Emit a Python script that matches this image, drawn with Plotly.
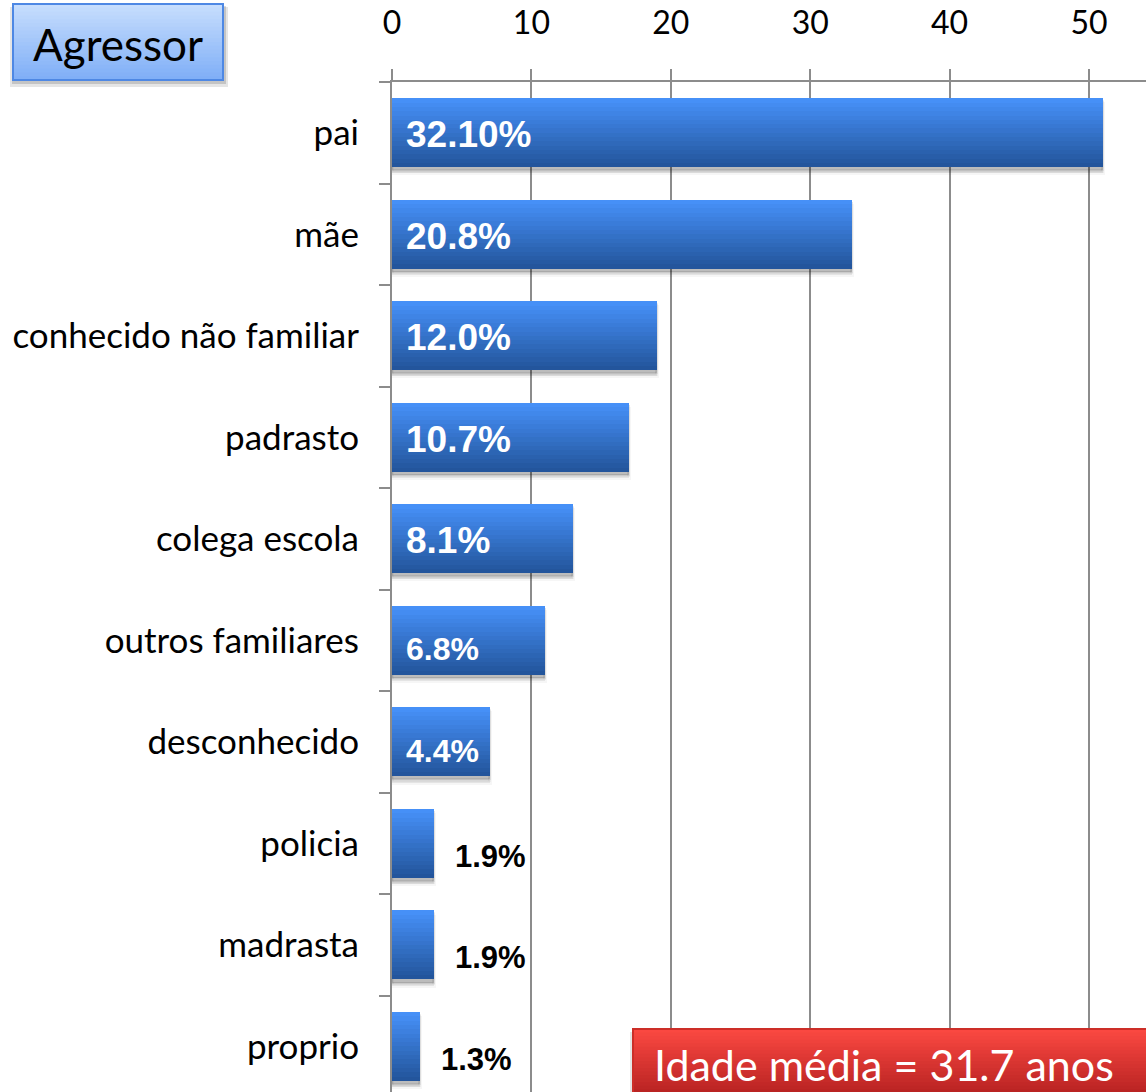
import plotly.graph_objects as go

# Agressor categories (top to bottom) and number of cases
categories = ["pai", "mãe", "conhecido não familiar", "padrasto", "colega escola",
              "outros familiares", "desconhecido", "policia", "madrasta", "proprio"]
counts = [51, 33, 19, 17, 13, 11, 7, 3, 3, 2]
pct_labels = ["32.10%", "20.8%", "12.0%", "10.7%", "8.1%", "6.8%", "4.4%", "1.9%", "1.9%", "1.3%"]
x_ticks = [0, 10, 20, 30, 40, 50]
title_text = "Agressor"
note_text = "Idade média = 31.7 anos"

W, H = 1146, 1092
ML, MT = 392, 82
PW, PH = W - ML, H - MT

BAR_W = 0.68
GRID = "#8c8c8c"
LABEL_FONT = "Lato"


def lerp_hex(c1, c2, t):
    a = [int(c1[i:i + 2], 16) for i in (1, 3, 5)]
    b = [int(c2[i:i + 2], 16) for i in (1, 3, 5)]
    return "rgb({},{},{})".format(*[round(a[j] + (b[j] - a[j]) * t) for j in range(3)])


def px_x(px):
    return (px - ML) / PW


def px_y(py):
    return (H - py) / PH


fig = go.Figure()

# soft drop shadow under each bar
for k, (dy, alpha) in enumerate([(0.06, 0.07), (0.045, 0.09), (0.03, 0.12)]):
    fig.add_trace(go.Bar(
        y=categories, x=counts, orientation="h",
        width=BAR_W, offset=-BAR_W / 2 + dy,
        marker=dict(color=f"rgba(0,0,0,{alpha})",
                    line=dict(width=4 - k, color=f"rgba(0,0,0,{alpha / 2})")),
        hoverinfo="skip", showlegend=False,
    ))

# vertical gradient on bars: stacked layers, darkest (full height) first
N = 16
top_c, bot_c = "#4690f7", "#23559c"
for k in range(N):
    frac = (N - k) / N
    fig.add_trace(go.Bar(
        y=categories, x=counts, orientation="h",
        width=BAR_W * frac, offset=-BAR_W / 2,
        marker=dict(color=lerp_hex(bot_c, top_c, k / (N - 1)), line=dict(width=0)),
        hoverinfo="skip", showlegend=False,
    ))

# percentage labels
annotations = []
for cat, val, lab in zip(categories, counts, pct_labels):
    if val >= 13:
        annotations.append(dict(x=0, y=cat, xref="x", yref="y", text=f"<b>{lab}</b>",
                                showarrow=False, xanchor="left", xshift=12, yshift=-2,
                                font=dict(family="Liberation Sans", size=37, color="white")))
    elif val >= 5:
        annotations.append(dict(x=0, y=cat, xref="x", yref="y", text=f"<b>{lab}</b>",
                                showarrow=False, xanchor="left", xshift=12, yshift=-9,
                                font=dict(family="Liberation Sans", size=32, color="white")))
    else:
        annotations.append(dict(x=val, y=cat, xref="x", yref="y", text=f"<b>{lab}</b>",
                                showarrow=False, xanchor="left", xshift=19, yshift=-13,
                                font=dict(family="Liberation Sans", size=31, color="black")))

shapes = []


def gradient_box(x0, x1, y0, y1, c_top, c_bot, border, n=20):
    # shadow
    shapes.append(dict(type="rect", xref="paper", yref="paper", layer="above",
                       x0=px_x(x0 - 3), x1=px_x(x1 + 5), y0=px_y(y1 + 7), y1=px_y(y0 + 3),
                       fillcolor="rgba(0,0,0,0.10)", line=dict(width=0)))
    shapes.append(dict(type="rect", xref="paper", yref="paper", layer="above",
                       x0=px_x(x0 - 1), x1=px_x(x1 + 3), y0=px_y(y1 + 4), y1=px_y(y0 + 2),
                       fillcolor="rgba(0,0,0,0.14)", line=dict(width=0)))
    for k in range(n):
        frac = (n - k) / n
        yb = y0 + (y1 - y0) * frac
        shapes.append(dict(type="rect", xref="paper", yref="paper", layer="above",
                           x0=px_x(x0), x1=px_x(x1), y0=px_y(yb), y1=px_y(y0),
                           fillcolor=lerp_hex(c_bot, c_top, k / (n - 1)), line=dict(width=0)))
    shapes.append(dict(type="rect", xref="paper", yref="paper", layer="above",
                       x0=px_x(x0), x1=px_x(x1), y0=px_y(y1), y1=px_y(y0),
                       fillcolor="rgba(0,0,0,0)", line=dict(width=2, color=border)))


gradient_box(13, 223, 4, 80, "#c6ddfd", "#80aff7", "#4e88e4")
gradient_box(633, 1160, 1029, 1100, "#fa4841", "#b32020", "#cc2e28")

annotations.append(dict(x=px_x(118), y=px_y(44), xref="paper", yref="paper",
                        text=title_text, showarrow=False, xanchor="center", yanchor="middle",
                        font=dict(family=LABEL_FONT, size=44, color="black")))
annotations.append(dict(x=px_x(652), y=px_y(1064), xref="paper", yref="paper",
                        text=note_text, showarrow=False, xanchor="left", yanchor="middle",
                        font=dict(family=LABEL_FONT, size=43, color="white")))

fig.update_layout(
    width=W, height=H,
    margin=dict(l=ML, r=0, t=MT, b=0, pad=0, autoexpand=False),
    paper_bgcolor="white", plot_bgcolor="white",
    barmode="overlay", bargap=0,
    showlegend=False,
    shapes=shapes, annotations=annotations,
    xaxis=dict(
        side="top", range=[0, PW / 13.94], tickvals=x_ticks,
        showgrid=True, gridcolor=GRID, gridwidth=2,
        ticks="outside", ticklen=11, tickwidth=2, tickcolor=GRID,
        showline=True, linecolor=GRID, linewidth=2, zeroline=False,
        tickfont=dict(family=LABEL_FONT, size=32, color="black"),
        ticklabelstandoff=22, automargin=False,
    ),
    yaxis=dict(
        type="category", categoryorder="array", categoryarray=categories,
        range=[(H - 133) / 101.5, -0.5],
        ticks="outside", tickson="boundaries", ticklen=11, tickwidth=2, tickcolor=GRID,
        showline=True, linecolor=GRID, linewidth=2, showgrid=False, zeroline=False,
        tickfont=dict(family=LABEL_FONT, size=35, color="black"),
        ticklabelstandoff=24, automargin=False,
    ),
)

fig.write_html("out.html")
